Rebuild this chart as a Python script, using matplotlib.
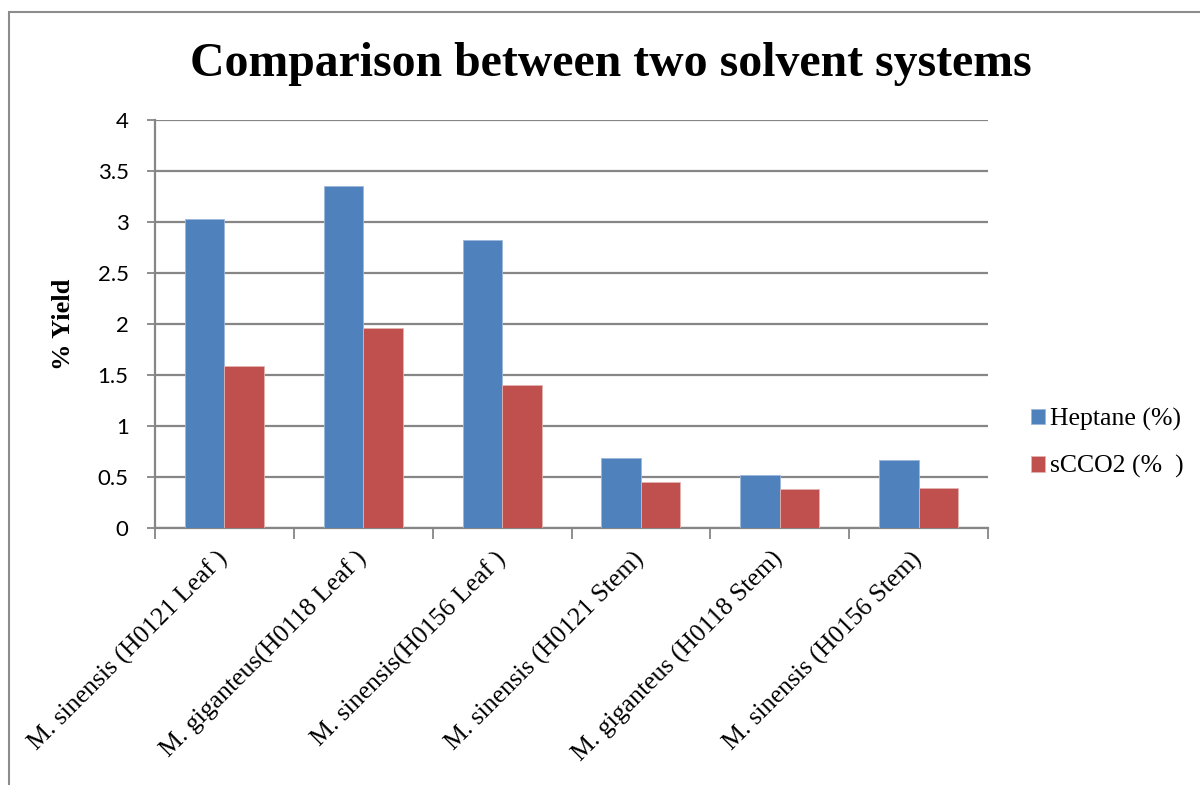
import numpy as np
import matplotlib
matplotlib.use('Agg')
import matplotlib.pyplot as plt
from matplotlib.patches import Rectangle

categories = ['M. sinensis (H0121 Leaf )', 'M. giganteus(H0118 Leaf )',
              'M. sinensis(H0156 Leaf )', 'M. sinensis (H0121 Stem)',
              'M. giganteus (H0118 Stem)', 'M. sinensis (H0156 Stem)']
heptane = [3.03, 3.35, 2.82, 0.69, 0.52, 0.67]
scco2 = [1.59, 1.96, 1.40, 0.45, 0.38, 0.39]
series_names = ['Heptane (%)', 'sCCO2 (%  )']
yticks = [0, 0.5, 1, 1.5, 2, 2.5, 3, 3.5, 4]

SERIF = ['Liberation Serif', 'DejaVu Serif']
SANS = ['Lato', 'DejaVu Sans']
GRID = '#868686'

fig = plt.figure(figsize=(12, 7.85), dpi=100)
# outer chart frame
fig.patches.append(Rectangle((9 / 1200, -0.1), 1.2, 1 - 12 / 785 + 0.1,
                             transform=fig.transFigure, fill=False,
                             edgecolor='#8c8c8c', linewidth=1.5))

ax = fig.add_axes([155 / 1200, 1 - 528 / 785, 833 / 1200, 408 / 785])
x = np.arange(len(categories))
w = 0.285
ax.bar(x - w / 2, heptane, w, color='#4F81BD', edgecolor='#9db7dc', linewidth=0.6,
       label=series_names[0], zorder=3)
ax.bar(x + w / 2, scco2, w, color='#C0504D', edgecolor='#e3b3b1', linewidth=0.6,
       label=series_names[1], zorder=3)

ax.set_xlim(-0.5, len(categories) - 0.5)
ax.set_ylim(0, 4)
ax.set_yticks(yticks)
ax.set_yticklabels([f'{t:g}' for t in yticks], fontfamily=SANS, fontsize=16)
ax.yaxis.grid(True, color=GRID, linewidth=1.6, zorder=0)

# category boundaries carry the x tick marks
ax.set_xticks(np.arange(-0.5, len(categories) + 0.5, 1.0))
ax.set_xticklabels([])
ax.tick_params(axis='x', length=8, width=1.3, color=GRID)
ax.tick_params(axis='y', length=6, width=1.3, color=GRID, pad=13)
for i, lab in enumerate(categories):
    ax.text(i, -0.27, lab, rotation=45, ha='right', va='center',
            rotation_mode='anchor', fontfamily=SERIF, fontsize=18.5,
            transform=ax.transData)

for s in ['top', 'right']:
    ax.spines[s].set_visible(False)
for s in ['left', 'bottom']:
    ax.spines[s].set_color(GRID)
    ax.spines[s].set_linewidth(1.6)

ax.set_ylabel('% Yield', fontfamily=SERIF, fontsize=19, fontweight='bold', labelpad=16)

fig.text(611 / 1200, 1 - 64 / 785, 'Comparison between two solvent systems',
         ha='center', va='center', fontfamily=SERIF, fontsize=34.4, fontweight='bold')

leg = fig.legend(loc='center left', bbox_to_anchor=(1031 / 1200, 1 - 443 / 785),
                 frameon=False, prop={'family': SERIF, 'size': 18.5},
                 borderpad=0, borderaxespad=0,
                 handlelength=0.55, handleheight=0.55, handletextpad=0.2,
                 labelspacing=0.95)

fig.savefig('out.png', dpi=100)
